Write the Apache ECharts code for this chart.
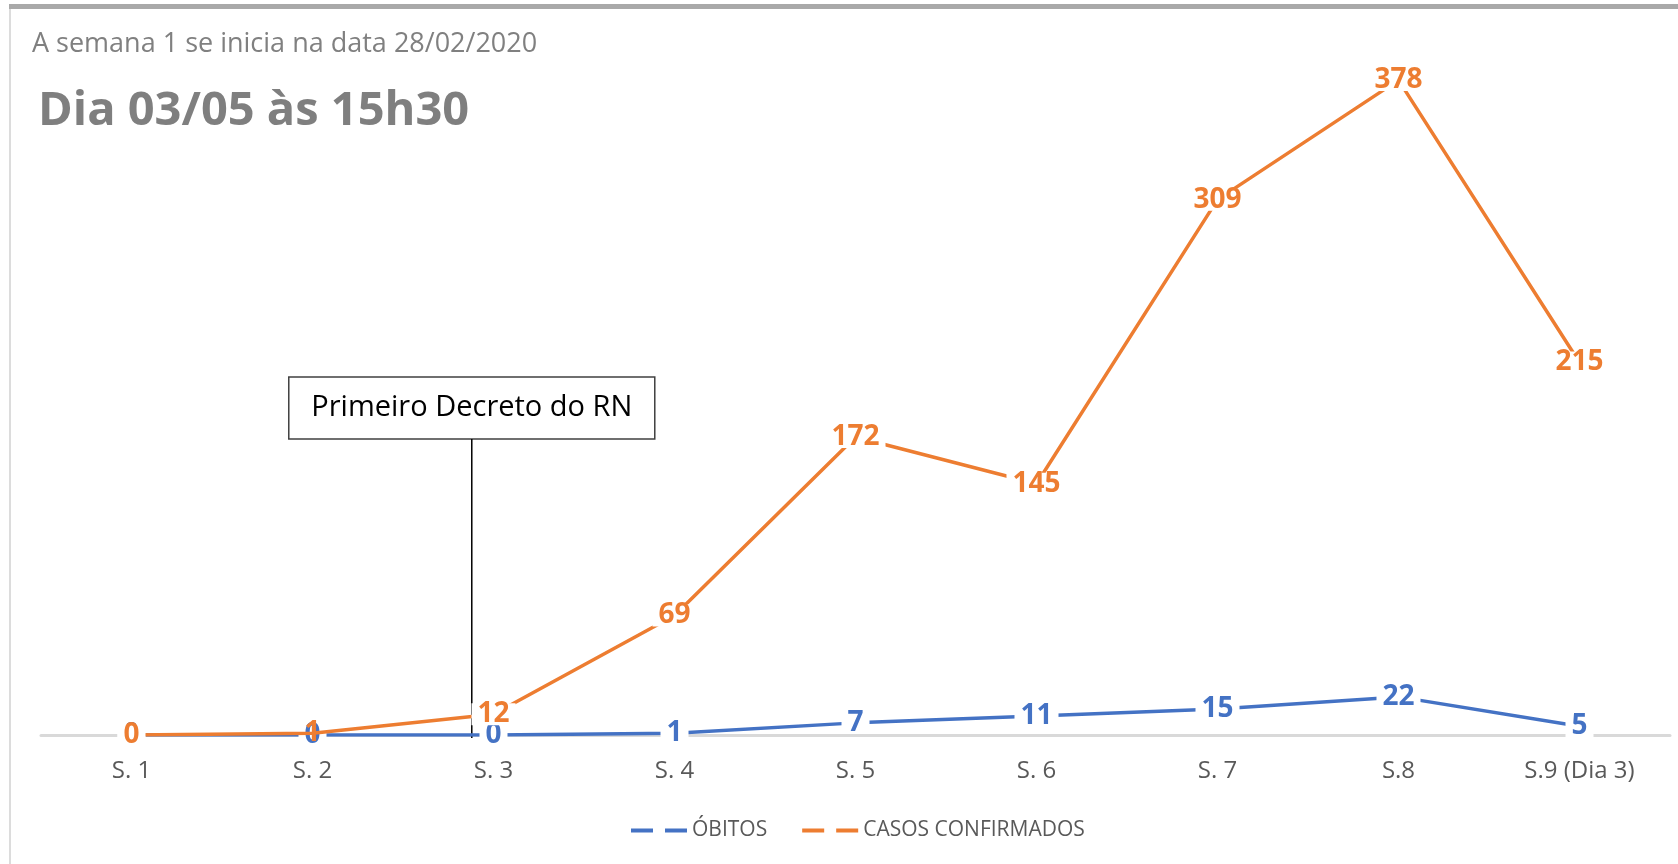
<!DOCTYPE html>
<html>
<head>
<meta charset="utf-8">
<script src="https://cdn.jsdelivr.net/npm/echarts@6/dist/echarts.min.js"></script>
<style>
    html, body { margin: 0; padding: 0; background: #fff; }
    #chart { width: 1678px; height: 864px; }
</style>
</head>
<body>
<div id="chart"></div>
<script>
// semanas
const semanas = ['S. 1', 'S. 2', 'S. 3', 'S. 4', 'S. 5', 'S. 6', 'S. 7', 'S.8', 'S.9 (Dia 3)'];
const obitos = [0, 0, 0, 1, 7, 11, 15, 22, 5];
const casos = [0, 1, 12, 69, 172, 145, 309, 378, 215];

const AZUL = '#4472C4';
const LARANJA = '#ED7D31';
const FONTE = '"Open Sans", "Noto Sans", sans-serif';

const chart = echarts.init(document.getElementById('chart'));

function labelCfg(color) {
    return {
        show: true,
        position: 'inside',
        color: color,
        fontFamily: FONTE,
        fontWeight: 'bold',
        fontSize: 28,
        lineHeight: 22,
        backgroundColor: '#fff',
        padding: [0, 6]
    };
}

// quando os dois rotulos caem no mesmo ponto, o laranja fica sem fundo
const casosData = casos.map((v, i) => {
    if (v !== 0 && Math.abs(v - obitos[i]) < 5) {
        return { value: v, label: { backgroundColor: 'transparent' } };
    }
    return v;
});

const dashIcon = 'path://M0,0H22V4H0Z M34,0H56V4H34Z';

chart.setOption({
    animation: false,
    grid: {
        left: 41,
        right: 8,
        top: 42,
        bottom: 129
    },
    legend: {
        left: 626,
        top: 815,
        itemWidth: 56,
        itemHeight: 4,
        itemGap: 35,
        textStyle: {
            color: '#595959',
            fontFamily: FONTE,
            fontSize: 21
        },
        data: [
            { name: 'ÓBITOS', icon: dashIcon },
            { name: 'CASOS CONFIRMADOS', icon: dashIcon }
        ]
    },
    xAxis: {
        type: 'category',
        boundaryGap: true,
        data: semanas,
        axisLine: {
            lineStyle: { color: '#d9d9d9', width: 3 }
        },
        axisTick: { show: false },
        axisLabel: {
            color: '#595959',
            fontFamily: FONTE,
            fontSize: 24,
            margin: 24
        }
    },
    yAxis: {
        type: 'value',
        min: 0,
        max: 400,
        show: false,
        splitLine: { show: false }
    },
    series: [
        {
            name: 'ÓBITOS',
            type: 'line',
            data: obitos,
            symbol: 'circle',
            symbolSize: 0,
            itemStyle: { color: AZUL },
            lineStyle: { color: AZUL, width: 3.5 },
            label: labelCfg(AZUL),
            z: 2
        },
        {
            name: 'CASOS CONFIRMADOS',
            type: 'line',
            data: casosData,
            symbol: 'circle',
            symbolSize: 0,
            itemStyle: { color: LARANJA },
            lineStyle: { color: LARANJA, width: 3.5 },
            label: labelCfg(LARANJA),
            z: 3
        }
    ]
});

// anotacao do decreto, ancorada entre S.2 e S.3
const x2 = chart.convertToPixel({ xAxisIndex: 0 }, 'S. 2');
const x3 = chart.convertToPixel({ xAxisIndex: 0 }, 'S. 3');
const xDecreto = x2 + 0.88 * (x3 - x2);
const yBase = chart.convertToPixel({ yAxisIndex: 0 }, 0);

chart.setOption({
    graphic: [
        // moldura
        { type: 'rect', shape: { x: 9, y: 4, width: 1669, height: 5 }, style: { fill: '#a9a9a9' }, silent: true },
        { type: 'rect', shape: { x: 9, y: 9, width: 2, height: 855 }, style: { fill: '#dcdcdc' }, silent: true },
        {
            type: 'text', left: 32, top: 31,
            style: { text: 'A semana 1 se inicia na data 28/02/2020', fill: '#808080', font: '27px ' + FONTE }
        },
        {
            type: 'text', left: 38, top: 88,
            style: { text: 'Dia 03/05 às 15h30', fill: '#7f7f7f', font: 'bold 47px ' + FONTE }
        },
        {
            type: 'line',
            shape: { x1: xDecreto, y1: 439, x2: xDecreto, y2: yBase + 3 },
            style: { stroke: '#000', lineWidth: 1.5 },
            z: 1
        },
        {
            type: 'rect',
            shape: { x: xDecreto - 183, y: 377, width: 366, height: 62 },
            style: { fill: '#fff', stroke: '#404040', lineWidth: 1.5 }
        },
        {
            type: 'text',
            x: xDecreto, y: 408,
            style: {
                text: 'Primeiro Decreto do RN',
                fill: '#000',
                font: '29px ' + FONTE,
                align: 'center',
                verticalAlign: 'middle'
            }
        }
    ]
});
</script>
</body>
</html>
